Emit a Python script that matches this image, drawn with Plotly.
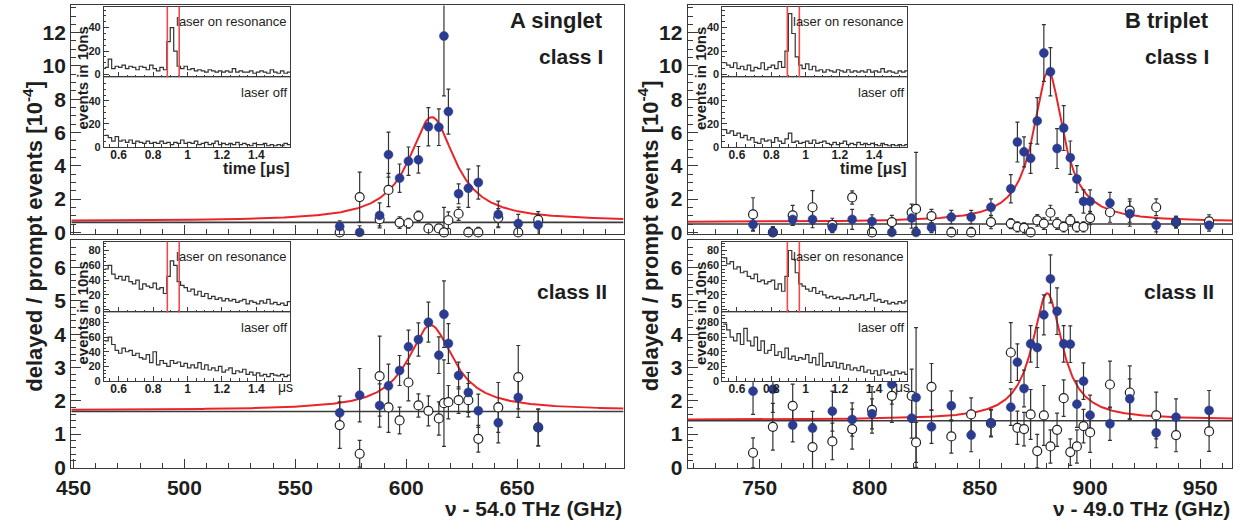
import numpy as np
import plotly.graph_objects as go

W, H = 1250, 531

# ---------------- data: main panels ----------------
freq_A = [570, 579, 588, 592, 597, 601, 605.5, 610, 614.7, 617, 619, 623.6, 628, 632.5, 641.5, 650.5, 659.5]

A1_on = [0.35, 0, 1.02, 4.67, 3.26, 4.28, 4.36, 6.35, 6.32, 11.8, 7.26, 2.32, 2.65, 3.0, 1.08, 0.53, 0.45]
A1_on_err = [0.35, 0.4, 0.75, 1.35, 0.85, 0.85, 0.8, 1.15, 1.1, 3.6, 1.35, 0.6, 1.15, 1.0, 0.8, 0.55, 0.6]
A1_off = [0, 2.12, 0.79, 2.55, 0.59, 0.55, 0.98, 0.24, 0.24, 0, 0.73, 1.12, 0, 0, 0.88, 0, 0.75]
A1_off_err = [0.3, 1.5, 0.4, 1.0, 0.35, 0.3, 0.3, 0.2, 0.2, 1.5, 0.5, 0.4, 0.3, 0.3, 0.55, 0.3, 0.5]

A2_on = [1.64, 2.17, 1.86, 2.45, 2.91, 3.62, 3.84, 4.36, 3.37, 4.6, 3.72, 2.76, 2.25, 1.7, 1.34, 2.1, 1.2]
A2_on_err = [0.5, 0.8, 0.65, 0.65, 0.45, 0.5, 0.5, 0.6, 0.55, 1.0, 0.6, 0.4, 0.6, 0.5, 0.6, 0.6, 0.55]
A2_off = [1.27, 0.41, 2.74, 1.8, 1.41, 2.55, 1.86, 1.7, 1.47, 1.93, 1.96, 2.02, 2.02, 0.86, 1.8, 2.71, 1.2]
A2_off_err = [0.7, 0.4, 1.2, 0.75, 0.4, 0.55, 0.35, 0.45, 0.5, 1.3, 0.5, 0.4, 0.5, 0.4, 0.75, 0.95, 0.55]

freq_B = [747, 756, 765, 774, 783, 792, 801, 810, 819, 821, 828, 837, 846, 855, 864, 867,
          870, 873, 876, 879, 882, 885, 888, 891, 894, 897, 900, 909, 918, 930, 939, 954]

B1_on = [0.47, 0, 0.78, 0.78, 0.29, 0.78, 0.66, 0, 0.86, 0, 0.29, 0.92, 0.92, 1.51, 2.62, 5.43,
         4.84, 4.45, 6.7, 10.78, 9.65, 5.04, 6.27, 4.49, 3.21, 1.86, 1.86, 1.76, 1.12, 0.43, 0.62, 0.43]
B1_on_err = [0.35, 0.35, 0.35, 0.5, 0.3, 0.6, 0.4, 0.3, 0.6, 0.3, 0.3, 0.4, 0.4, 0.5, 0.85, 1.2,
             0.9, 0.9, 1.4, 1.7, 1.45, 1.2, 1.35, 1.0, 0.8, 0.7, 0.7, 0.65, 0.75, 0.4, 0.35, 0.35]
B1_off = [1.08, 0, 1.02, 1.51, 0.45, 2.1, 0, 0.62, 1.2, 1.41, 0.98, 0, 0, 0.62, 0.53, 0.33,
          0.27, 0, 0.72, 0.53, 1.18, 0.53, 0.33, 0.72, 0.33, 0.33, 0.86, 1.21, 1.31, 1.51, 0.62, 0.66]
B1_off_err = [1.0, 0.3, 0.6, 1.0, 0.4, 0.4, 0.3, 0.4, 0.5, 3.4, 0.4, 0.3, 0.3, 0.4, 0.3, 0.3,
              0.3, 0.25, 0.35, 0.35, 0.45, 0.35, 0.3, 0.35, 0.3, 0.3, 0.4, 0.6, 0.7, 0.5, 0.35, 0.4]

B2_on = [2.29, 2.35, 1.27, 1.18, 1.69, 1.44, 1.61, 2.5, 1.48, 2.1, 1.22, 1.85, 0.97, 1.34, 1.81, 3.16,
         2.37, 3.71, 3.6, 4.58, 5.66, 4.69, 3.71, 3.7, 1.9, 2.59, 1.57, 1.31, 2.06, 1.04, 1.51, 1.71]
B2_on_err = [0.7, 0.7, 0.5, 0.5, 0.6, 0.5, 0.45, 0.6, 0.6, 2.1, 0.5, 0.45, 0.5, 0.4, 0.55, 0.55,
             0.55, 0.55, 0.6, 0.6, 0.72, 0.7, 0.55, 0.55, 0.7, 0.55, 0.6, 0.5, 0.6, 0.45, 0.55, 0.6]
B2_off = [0.44, 1.22, 1.85, 0.61, 0.78, 1.15, 1.73, 2.15, 2.15, 0.75, 2.42, 0.93, 1.59, 1.32, 3.45, 1.19,
          1.15, 1.59, 0.49, 1.56, 0.63, 1.13, 2.08, 0.46, 0.63, 1.24, 1.05, 2.49, 2.25, 1.56, 0.97, 1.08]
B2_off_err = [0.45, 0.7, 0.65, 0.7, 0.55, 0.6, 0.7, 0.8, 0.8, 0.6, 0.7, 0.5, 0.5, 0.4, 0.9, 0.5,
              0.5, 0.75, 0.5, 0.9, 0.5, 0.5, 0.55, 0.4, 0.5, 0.5, 0.6, 0.7, 0.8, 0.7, 0.5, 0.6]

# Lorentzian fit parameters (center, FWHM, amplitude, offset) and background level
fit_A1 = (611.5, 25.0, 6.25, 0.68)
fit_A2 = (611.0, 25.0, 2.55, 1.72)
fit_B1 = (881.0, 16.5, 9.05, 0.62)
fit_B2 = (880.5, 16.5, 3.80, 1.43)
bg_A1, bg_A2, bg_B1, bg_B2 = 0.60, 1.68, 0.50, 1.40

# ---------------- data: inset time spectra (events in 10 ns) ----------------
t_start, t_bin = 0.52, 0.02
gate_A = (0.883, 0.952)
gate_B = (0.894, 0.964)

hA1_on = [6, 13, 5, 7, 6, 8, 5, 7, 6, 4, 7, 6, 4, 8, 5, 3, 6, 4, 28, 40,
          20, 7, 5, 7, 4, 5, 3, 4, 3, 2, 4, 3, 2, 3, 2, 3, 2, 5, 2, 3,
          2, 2, 3, 1, 2, 3, 2, 1, 4, 2, 1, 3, 1, 2]
hA1_off = [10, 8, 5, 9, 5, 6, 4, 6, 3, 5, 4, 3, 5, 3, 4, 3, 5, 3, 4, 2,
           4, 3, 6, 3, 4, 3, 5, 2, 3, 4, 2, 3, 5, 2, 3, 2, 3, 2, 4, 2,
           3, 2, 1, 3, 2, 2, 3, 1, 2, 1, 2, 1, 3, 2]
hA2_on = [55, 60, 48, 42, 45, 40, 45, 38, 35, 40, 28, 35, 32, 30, 36, 28, 30, 22, 45, 66,
          60, 38, 33, 30, 25, 28, 20, 25, 18, 22, 15, 18, 14, 16, 12, 15, 12, 14, 10, 12,
          14, 8, 12, 10, 8, 12, 9, 14, 8, 10, 7, 9, 6, 11]
hA2_off = [55, 60, 50, 42, 38, 45, 40, 42, 35, 38, 32, 30, 36, 25, 40, 22, 28, 24, 20, 28,
           24, 26, 20, 24, 18, 22, 18, 25, 16, 22, 15, 18, 14, 20, 12, 15, 18, 10, 14, 12,
           16, 9, 12, 8, 11, 7, 9, 6, 10, 8, 7, 9, 6, 8]
hB1_on = [10, 8, 6, 10, 5, 7, 4, 8, 3, 6, 5, 10, 4, 6, 8, 5, 11, 6, 20, 52,
          35, 15, 8, 5, 9, 4, 7, 3, 4, 2, 4, 3, 2, 4, 3, 2, 4, 2, 3, 2,
          3, 2, 4, 2, 3, 2, 5, 2, 3, 2, 1, 3, 2, 3]
hB1_off = [15, 12, 14, 10, 12, 8, 10, 6, 8, 4, 3, 7, 5, 6, 4, 8, 5, 3, 7, 12,
           4, 5, 3, 4, 5, 3, 6, 3, 4, 5, 3, 2, 4, 2, 3, 5, 2, 3, 2, 4,
           2, 3, 2, 3, 2, 1, 3, 2, 1, 2, 1, 2, 1, 2]
hB2_on = [70, 62, 65, 55, 58, 50, 52, 45, 42, 48, 38, 40, 35, 38, 40, 28, 35, 25, 45, 80,
          68, 50, 35, 32, 28, 25, 30, 22, 25, 20, 16, 18, 15, 17, 14, 16, 15, 20, 14, 16,
          20, 13, 15, 22, 12, 14, 10, 12, 8, 10, 8, 11, 9, 12]
hB2_off = [78, 70, 60, 55, 65, 50, 72, 55, 48, 60, 42, 55, 38, 42, 50, 35, 40, 32, 45, 30,
           34, 28, 32, 30, 36, 25, 32, 22, 38, 20, 25, 20, 26, 18, 24, 16, 22, 15, 18, 14,
           20, 12, 15, 10, 14, 8, 15, 10, 12, 8, 14, 10, 12, 9]

inset_ticks = [0.6, 0.8, 1.0, 1.2, 1.4]
inset_ticktext = ["0.6", "0.8", "1", "1.2", "1.4"]

# ---------------- style ----------------
FONT = "Liberation Sans"
BLUE = "#2b3b8f"
FRAME = "#3a3a3a"
RED = "#e8262a"
TXT = "#1e1e1e"


def xd(a, b):
    return [a / W, b / W]


def yd(top, bottom):
    return [1 - bottom / H, 1 - top / H]


def px(x):
    return x / W


def py(y):
    return 1 - y / H


fig = go.Figure()


def lorentz(f, p):
    c, g, a, b = p
    hw = g / 2.0
    return b + a * hw ** 2 / ((f - c) ** 2 + hw ** 2)


def add_main(n, freqs, on, on_err, off, off_err, fitp, bg, xr):
    xa, ya = ("x" if n == 1 else f"x{n}"), ("y" if n == 1 else f"y{n}")
    ff = np.linspace(xr[0], xr[1], 800)
    fig.add_trace(go.Scatter(x=ff, y=lorentz(ff, fitp), mode="lines",
                             line=dict(color=RED, width=2), xaxis=xa, yaxis=ya,
                             hoverinfo="skip"))
    fig.add_trace(go.Scatter(x=[xr[0], xr[1]], y=[bg, bg], mode="lines",
                             line=dict(color=FRAME, width=1.6), xaxis=xa, yaxis=ya,
                             hoverinfo="skip"))
    for vals, errs in ((off, off_err), (on, on_err)):
        fig.add_trace(go.Scatter(x=freqs, y=vals, mode="markers",
                                 marker=dict(size=8, color="rgba(0,0,0,0)"),
                                 error_y=dict(type="data", array=errs, visible=True,
                                              color="#333333", thickness=1.2, width=2),
                                 xaxis=xa, yaxis=ya))
    fig.add_trace(go.Scatter(x=freqs, y=off, mode="markers", cliponaxis=False,
                             marker=dict(size=9, color="white",
                                         line=dict(color="#222222", width=1.2)),
                             xaxis=xa, yaxis=ya))
    fig.add_trace(go.Scatter(x=freqs, y=on, mode="markers", cliponaxis=False,
                             marker=dict(size=9, color=BLUE,
                                         line=dict(color=BLUE, width=0.5)),
                             xaxis=xa, yaxis=ya))


def add_hist(n, counts):
    edges = t_start + t_bin * np.arange(len(counts) + 1)
    yy = list(counts) + [counts[-1]]
    fig.add_trace(go.Scatter(x=edges, y=yy, mode="lines", line_shape="hv",
                             line=dict(color="#333333", width=1.2),
                             xaxis=f"x{n}", yaxis=f"y{n}", hoverinfo="skip"))


xrA = [449.0, 698.0]
xrB = [717.4, 964.5]
yr_top = [-0.1, 13.64]
yr_bot = [-0.02, 6.83]

add_main(1, freq_A, A1_on, A1_on_err, A1_off, A1_off_err, fit_A1, bg_A1, xrA)
add_main(2, freq_A, A2_on, A2_on_err, A2_off, A2_off_err, fit_A2, bg_A2, xrA)
add_main(3, freq_B, B1_on, B1_on_err, B1_off, B1_off_err, fit_B1, bg_B1, xrB)
add_main(4, freq_B, B2_on, B2_on_err, B2_off, B2_off_err, fit_B2, bg_B2, xrB)

hists = [hA1_on, hA1_off, hA2_on, hA2_off, hB1_on, hB1_off, hB2_on, hB2_off]
for i, h in enumerate(hists):
    add_hist(5 + i, h)

tickfont_main = dict(family=FONT, size=21, color=TXT, weight="bold")
tickfont_ins = dict(family=FONT, size=11, color=TXT, weight="bold")


def main_x(n, dom, rng, labels):
    return dict(domain=dom, range=rng, anchor=("y" if n == 1 else f"y{n}"),
                showgrid=False, zeroline=False, showline=True, linecolor=FRAME,
                linewidth=1.3, mirror=True, ticks="inside", ticklen=9, tickwidth=1,
                tickcolor=FRAME, tick0=0, dtick=50, showticklabels=labels,
                tickfont=tickfont_main, ticklabelstandoff=1,
                minor=dict(dtick=10, tick0=0, ticks="inside", ticklen=4.5,
                           tickcolor=FRAME))


def main_y(n, dom, rng, dt, mdt):
    return dict(domain=dom, range=rng, anchor=("x" if n == 1 else f"x{n}"),
                showgrid=False, zeroline=False, showline=True, linecolor=FRAME,
                linewidth=1.3, mirror=True, ticks="inside", ticklen=10, tickwidth=1,
                tickcolor=FRAME, tick0=0, dtick=dt, tickfont=tickfont_main,
                minor=dict(dtick=mdt, tick0=0, ticks="inside", ticklen=5,
                           tickcolor=FRAME))


def ins_x(n, dom, labels):
    return dict(domain=dom, range=[0.515, 1.595], anchor=f"y{n}",
                showgrid=False, zeroline=False, showline=True, linecolor=FRAME,
                linewidth=1.1, mirror=True, ticks="inside", ticklen=5, tickwidth=1,
                tickcolor=FRAME, tickvals=inset_ticks, ticktext=inset_ticktext,
                showticklabels=labels,
                tickfont=dict(family=FONT, size=12, color=TXT, weight="bold"),
                ticklabelstandoff=-3,
                minor=dict(dtick=0.05, tick0=0, ticks="inside", ticklen=2.5,
                           tickcolor=FRAME))


def ins_y(n, dom, rng, tv):
    return dict(domain=dom, range=rng, anchor=f"x{n}",
                showgrid=False, zeroline=False, showline=True, linecolor=FRAME,
                linewidth=1.1, mirror=True, ticks="inside", ticklen=5, tickwidth=1,
                tickcolor=FRAME, tickvals=tv, tickfont=tickfont_ins,
                ticklabelstandoff=0,
                minor=dict(dtick=5, tick0=0, ticks="inside", ticklen=2.5,
                           tickcolor=FRAME))


domA, domB = xd(57, 616), xd(681, 1232)
dom_top, dom_bot = yd(5.5, 239), yd(245, 478)

layout = dict(width=W, height=H, margin=dict(l=0, r=0, t=0, b=0),
              paper_bgcolor="white", plot_bgcolor="white", showlegend=False)

layout["xaxis"] = main_x(1, domA, xrA, False)
layout["yaxis"] = main_y(1, dom_top, yr_top, 2, 0.5)
layout["xaxis2"] = main_x(2, domA, xrA, True)
layout["yaxis2"] = main_y(2, dom_bot, yr_bot, 1, 0.2)
layout["xaxis3"] = main_x(3, domB, xrB, False)
layout["yaxis3"] = main_y(3, dom_top, yr_top, 2, 0.5)
layout["xaxis4"] = main_x(4, domB, xrB, True)
layout["yaxis4"] = main_y(4, dom_bot, yr_bot, 1, 0.2)

insA, insB = xd(90, 278.3), xd(716, 903.3)
i1_on, i1_off = yd(6.7, 79), yd(79, 150)
i2_on, i2_off = yd(246.7, 319), yd(319, 389)
ticks_I, ticks_II = [0, 20, 40], [0, 20, 40, 60, 80]
inset_specs = [
    (5, insA, i1_on, [-2.5, 58], ticks_I, False),
    (6, insA, i1_off, [0, 60.5], ticks_I, True),
    (7, insA, i2_on, [-3.5, 92], ticks_II, False),
    (8, insA, i2_off, [0, 94], ticks_II, True),
    (9, insB, i1_on, [-2.5, 58], ticks_I, False),
    (10, insB, i1_off, [0, 60.5], ticks_I, True),
    (11, insB, i2_on, [-3.5, 92], ticks_II, False),
    (12, insB, i2_off, [0, 94], ticks_II, True),
]
for n, dx, dy, rng, tv, lab in inset_specs:
    layout[f"xaxis{n}"] = ins_x(n, dx, lab)
    layout[f"yaxis{n}"] = ins_y(n, dy, rng, tv)

# gate lines in "laser on resonance" spectra
shapes = []
for n, gate in ((5, gate_A), (7, gate_A), (9, gate_B), (11, gate_B)):
    for g in gate:
        shapes.append(dict(type="line", xref=f"x{n}", yref=f"y{n} domain",
                           x0=g, x1=g, y0=0, y1=1,
                           line=dict(color="#ef4a4a", width=1.6)))
layout["shapes"] = shapes

ann = []


def text(x, y, s, size, bold=True, xanchor="center", angle=0, yanchor="middle"):
    ann.append(dict(x=px(x), y=py(y), xref="paper", yref="paper", text=s,
                    showarrow=False, xanchor=xanchor, yanchor=yanchor,
                    textangle=angle,
                    font=dict(family=FONT, size=size, color=TXT,
                              weight=("bold" if bold else "normal"))))


ytitle = "delayed / prompt events [10<sup>-4</sup>]"
text(18, 241, ytitle, 22, angle=-90)
text(641, 241, ytitle, 22, angle=-90)
text(616, 519, "\u03bd - 54.0 THz (GHz)", 21, xanchor="right")
text(1232, 519, "\u03bd - 49.0 THz (GHz)", 21, xanchor="right")

text(597, 21, "A singlet", 22, xanchor="right")
text(597, 58, "class I", 21, xanchor="right")
text(601, 298, "class II", 21, xanchor="right")
text(1211, 21, "B triplet", 22, xanchor="right")
text(1211, 58, "class I", 21, xanchor="right")
text(1216, 298, "class II", 21, xanchor="right")

for x0, x1 in ((90, 278.3), (716, 903.3)):
    text(x1 - 1, 22, "laser on resonance", 13, bold=False, xanchor="right")
    text(x1 - 1, 94, "laser off", 13, bold=False, xanchor="right")
    text(x1 - 1, 262, "laser on resonance", 13, bold=False, xanchor="right")
    text(x1 - 1, 334, "laser off", 13, bold=False, xanchor="right")
    text(x1 + 2, 172, "time [\u03bcs]", 16, xanchor="right")
    text(x1 - 5, 395, "\u03bcs", 14, bold=False, xanchor="center")
    text(x0 - 22, 80, "events in 10ns", 15, angle=-90)
    text(x0 - 22, 320, "events in 10ns", 15, angle=-90)

layout["annotations"] = ann
fig.update_layout(**layout)

fig.write_html("out.html", config={"displayModeBar": False},
               post_script="document.body.style.margin='0px';document.body.style.overflow='hidden';")
